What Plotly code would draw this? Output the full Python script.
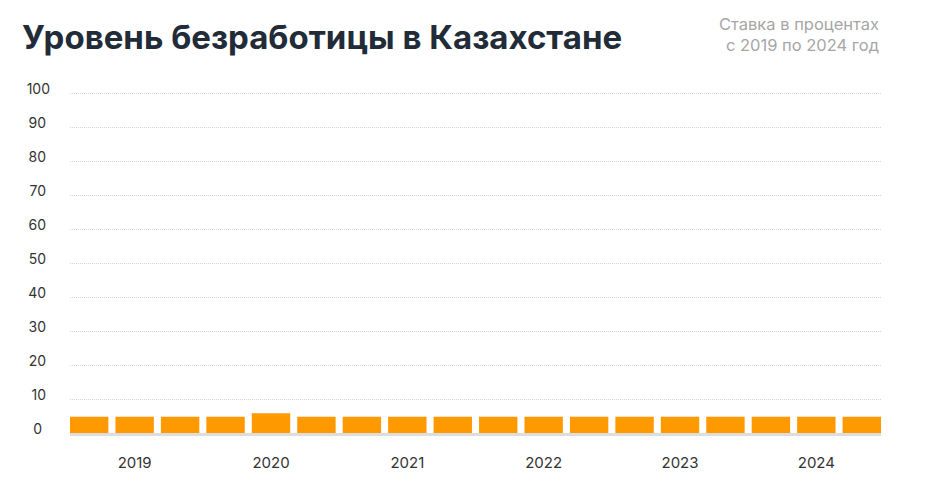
import plotly.graph_objects as go

# unemployment rate, %, three readings per year
periods = list(range(18))
rates = [4.8, 4.8, 4.8, 4.8, 5.8, 4.8,
         4.8, 4.8, 4.8, 4.8, 4.8, 4.8,
         4.8, 4.8, 4.8, 4.8, 4.8, 4.8]
years = ["2019", "2020", "2021", "2022", "2023", "2024"]
year_ticks = [1, 4, 7, 10, 13, 16]
y_ticks = [0, 10, 20, 30, 40, 50, 60, 70, 80, 90, 100]

# pad the shorter labels so they sit centred like the original
nb = "\u00a0"
y_text = [str(v) + nb * (3 - len(str(v))) for v in y_ticks]

fig = go.Figure()

fig.add_trace(go.Bar(
    x=periods, y=rates,
    xaxis="x2", yaxis="y",
    marker=dict(color="#ff9900", line=dict(width=0)),
    width=0.845,
    hovertemplate="%{y}%<extra></extra>",
))

font = "Inter, 'Noto Sans', sans-serif"

# page body adds 8px, so the figure is a bit smaller than the window
W, H = 927, 483
L, R, T, B = 62, 54, 84, 58
plot_w = W - L - R
plot_h = H - T - B

fig.update_layout(
    width=W, height=H,
    margin=dict(l=L, r=R, t=T, b=B),
    paper_bgcolor="white", plot_bgcolor="white",
    showlegend=False,
    font=dict(family=font, size=14, color="#333333"),
    # faint vertical grid behind the bars
    xaxis=dict(
        range=[0, 19.24], dtick=1, showgrid=True, gridcolor="#f3f3f3",
        gridwidth=1, showticklabels=False, zeroline=False, ticks="",
        fixedrange=True,
    ),
    xaxis2=dict(
        overlaying="x", side="bottom",
        range=[-0.4225, 17.4225],
        tickmode="array", tickvals=year_ticks, ticktext=years,
        showgrid=False, zeroline=False, ticks="",
        showline=True, linecolor="#dddddd", linewidth=3,
        tickfont=dict(size=15, color="#333333"),
        ticklabelstandoff=14,
    ),
    yaxis=dict(
        range=[0, 100.3], tickmode="array", tickvals=y_ticks, ticktext=y_text,
        showgrid=True, gridcolor="#d4d4d4", griddash="1px,1px", gridwidth=1,
        zeroline=False, ticks="",
        tickfont=dict(size=14, color="#333333"),
        ticklabelstandoff=19, ticklabelshift=-4,
    ),
    bargap=0.155,
    annotations=[
        dict(
            text="<b>Уровень безработицы в Казахстане</b>",
            xref="paper", yref="paper",
            x=(12 - L) / plot_w, y=1 + (T - 29) / plot_h,
            xanchor="left", yanchor="middle", showarrow=False,
            font=dict(family=font, size=33, color="#222b38"),
        ),
        dict(
            text="Ставка в процентах<br>с 2019 по 2024 год",
            xref="paper", yref="paper",
            x=1, y=1 + (T - 27) / plot_h,
            xanchor="right", yanchor="middle", align="right",
            showarrow=False,
            font=dict(family=font, size=16.5, color="#a6a6a6"),
        ),
    ],
)

fig.write_html("out.html")
